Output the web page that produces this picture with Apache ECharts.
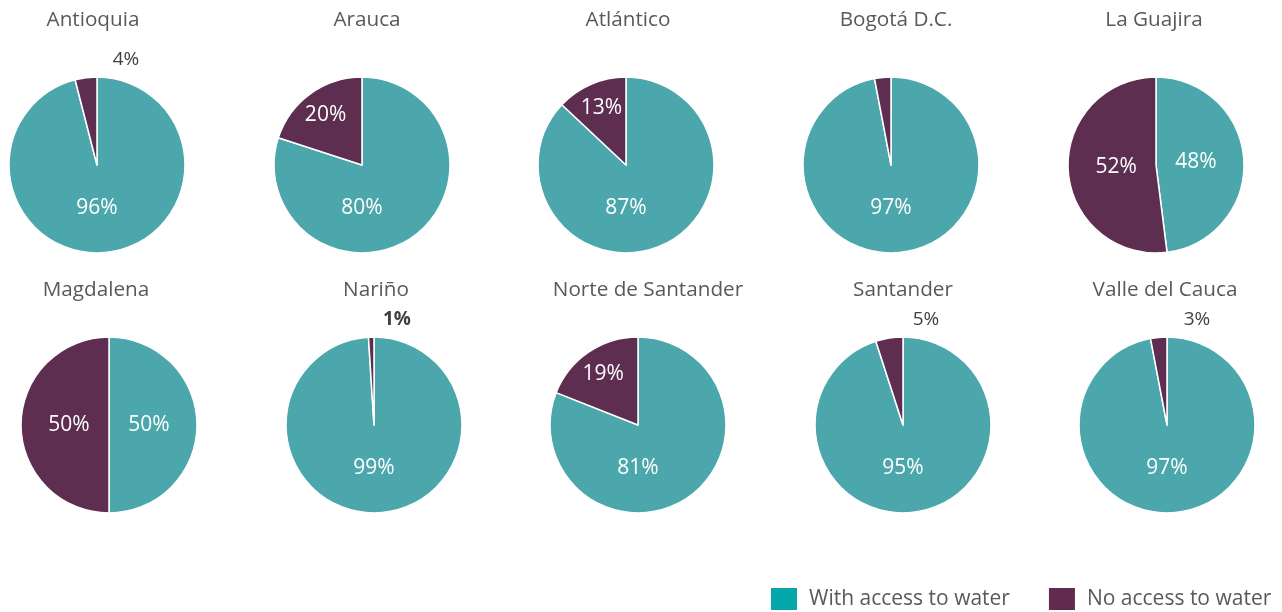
<!DOCTYPE html>
<html>
<head>
<meta charset="utf-8">
<script src="https://cdn.jsdelivr.net/npm/echarts@6/dist/echarts.min.js"></script>
<style>
  html, body { margin: 0; padding: 0; background: #ffffff; }
  #chart { width: 1282px; height: 612px; }
</style>
</head>
<body>
<div id="chart"></div>
<script>
// Share of households with and without access to water, by department
const regions = ['Antioquia', 'Arauca', 'Atlántico', 'Bogotá D.C.', 'La Guajira',
                 'Magdalena', 'Nariño', 'Norte de Santander', 'Santander', 'Valle del Cauca'];
const withAccess = [96, 80, 87, 97, 48, 50, 99, 81, 95, 97];
const noAccess   = [4, 20, 13, 3, 52, 50, 1, 19, 5, 3];
const seriesNames = ['With access to water', 'No access to water'];

// Layout of the 2 x 5 grid of pies
const pieCenters = [
  [97, 165], [362, 165], [626, 165], [891, 165], [1156, 165],
  [109, 425], [374, 425], [638, 425], [903, 425], [1167, 425]
];
const titleCenters = [
  [88, 19], [362, 19], [623, 19], [891, 19], [1149, 19],
  [91, 289], [371, 289], [643, 289], [898, 289], [1160, 289]
];
// horizontal shift of the small outside values, per pie
const smallLabelShift = [29, 26, 26, 26, 26, 26, 23, 26, 23, 30];
const pieRadius = 88;
const tealPie = '#4BA7AB', purplePie = '#5D2E50';
const tealKey = '#06A7AA', purpleKey = '#602B4F';
const FONT = '"Open Sans", "Noto Sans", sans-serif';

const chart = echarts.init(document.getElementById('chart'), null, { renderer: 'canvas' });

const titles = regions.map((name, i) => ({
  text: name,
  left: titleCenters[i][0],
  top: titleCenters[i][1] - 14,
  textAlign: 'center',
  textStyle: { fontFamily: FONT, fontSize: 20.7, fontWeight: 'normal', color: '#595959' }
}));

function sliceLabel(value, hideLabel, boldLabel) {
  if (hideLabel) return { show: false };
  if (value < 10) {
    return {
      show: true, position: 'outside', color: '#404040', fontSize: 19,
      fontWeight: boldLabel ? 'bold' : 'normal'
    };
  }
  return { show: true, position: 'inside' };
}

const series = regions.map((name, i) => {
  const c = pieCenters[i];
  return {
    type: 'pie',
    name: name,
    center: c,
    radius: pieRadius,
    startAngle: 90,
    clockwise: true,
    silent: true,
    avoidLabelOverlap: false,
    itemStyle: { borderColor: '#ffffff', borderWidth: 1.5 },
    label: {
      show: true, position: 'inside', formatter: '{c}%',
      color: '#ffffff', fontFamily: FONT, fontSize: 21
    },
    labelLine: { show: false, length: 6, length2: 0 },
    labelLayout: function (p) {
      const r = p.labelRect;
      const lx = r.x + r.width / 2, ly = r.y + r.height / 2;
      const dx = lx - c[0], dy = ly - c[1];
      const d = Math.sqrt(dx * dx + dy * dy);
      const v = p.dataIndex === 0 ? withAccess[i] : noAccess[i];
      const place = (x, y) => ({ x: x, y: y, align: 'center', verticalAlign: 'middle' });
      if (v < 10) {
        // small slices: value sits just above the pie, right of the top
        return place(c[0] + smallLabelShift[i], c[1] - pieRadius - 17);
      }
      if (v >= 60) {
        // dominant slice: value centred under the middle of the pie
        return place(c[0], c[1] + 43);
      }
      if (d > 0) {
        const k = (v < 30 ? 62 : 40) / d;
        return place(c[0] + dx * k, c[1] + dy * k);
      }
      return {};
    },
    data: [
      { name: seriesNames[0], value: withAccess[i],
        itemStyle: { color: tealPie }, label: sliceLabel(withAccess[i], false, false) },
      { name: seriesNames[1], value: noAccess[i],
        itemStyle: { color: purplePie },
        label: sliceLabel(noAccess[i], name === 'Bogotá D.C.', name === 'Nariño') }
    ]
  };
});

chart.setOption({
  animation: false,
  backgroundColor: '#ffffff',
  title: titles,
  legend: {
    left: 769,
    top: 586,
    padding: 0,
    icon: 'rect',
    itemWidth: 28,
    itemHeight: 24,
    itemGap: 37,
    selectedMode: false,
    textStyle: { fontFamily: FONT, fontSize: 21, color: '#595959', padding: [0, 0, 0, 6] },
    data: [
      { name: seriesNames[0], itemStyle: { color: tealKey } },
      { name: seriesNames[1], itemStyle: { color: purpleKey } }
    ]
  },
  series: series
});
</script>
</body>
</html>
